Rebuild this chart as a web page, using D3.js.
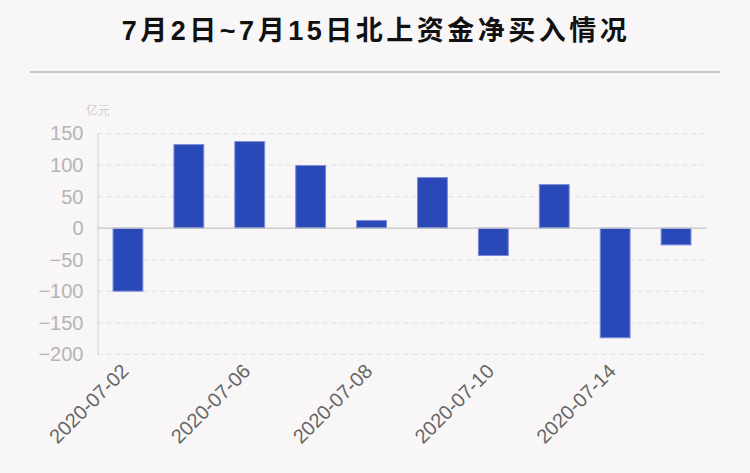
<!DOCTYPE html>
<html>
<head>
<meta charset="utf-8">
<script src="https://cdn.jsdelivr.net/npm/d3@7"></script>
<style>
  html, body { margin: 0; padding: 0; background: #f9f6f7; }
  svg { display: block; font-family: "Liberation Sans", Arial, sans-serif; }
</style>
</head>
<body>
<svg id="chart"></svg>
<script>
// data (亿元)
const dates = ['2020-07-02','2020-07-03','2020-07-06','2020-07-07','2020-07-08',
               '2020-07-09','2020-07-10','2020-07-13','2020-07-14','2020-07-15'];
const netBuy = [-99.7, 132.4, 137.2, 99.2, 12.2, 80.2, -43.2, 69.1, -173.5, -26.4];
const yTicks = [150, 100, 50, 0, -50, -100, -150, -200];
const shownDates = ['2020-07-02','2020-07-06','2020-07-08','2020-07-10','2020-07-14'];
const title = '7月2日~7月15日北上资金净买入情况';
const unit = '亿元';

const w = 750, h = 473;
const padL = 97.5, padR = 706.5, padT = 133.5, padB = 354.5;

const svg = d3.select('#chart').attr('width', w).attr('height', h);

svg.append('rect').attr('width', w).attr('height', h).attr('fill', '#f9f6f7');

// title + rule
svg.append('text')
  .attr('x', 376).attr('y', 40)
  .attr('text-anchor', 'middle')
  .attr('font-family', '"Liberation Sans", "Noto Sans CJK SC", sans-serif')
  .attr('font-weight', 'bold')
  .attr('font-size', 27)
  .attr('letter-spacing', 3.5)
  .attr('fill', '#111')
  .text(title);
svg.append('line')
  .attr('x1', 30).attr('x2', 720).attr('y1', 72).attr('y2', 72)
  .attr('stroke', '#c6c6c6').attr('stroke-width', 2);

const x = d3.scaleBand().domain(dates).range([padL, padR]).paddingInner(0.51).paddingOuter(0.255);
const y = d3.scaleLinear().domain([-200, 150]).range([padB, padT]);

// grid
svg.append('g')
  .selectAll('line')
  .data(yTicks.filter(d => d !== 0))
  .join('line')
  .attr('x1', padL).attr('x2', padR)
  .attr('y1', d => y(d)).attr('y2', d => y(d))
  .attr('stroke', '#e3e0e1').attr('stroke-dasharray', '5,4');

// y axis
const yAxis = d3.axisLeft(y).tickValues(yTicks).tickSize(0).tickPadding(14);
const gy = svg.append('g').attr('transform', `translate(${padL},0)`).call(yAxis);
gy.select('.domain').attr('stroke', '#d0d0d0');
gy.selectAll('text')
  .attr('font-size', 20)
  .attr('fill', '#b4b4b4')
  .attr('font-family', '"Liberation Sans", Arial, sans-serif');

svg.append('text')
  .attr('x', 98).attr('y', 115)
  .attr('text-anchor', 'middle')
  .attr('font-size', 12)
  .attr('fill', '#cfcfcf')
  .attr('font-family', '"Noto Sans CJK SC", sans-serif')
  .text(unit);

// bars
svg.append('g')
  .selectAll('rect')
  .data(dates.map((d, i) => ({ date: d, v: netBuy[i] })))
  .join('rect')
  .attr('x', d => x(d.date))
  .attr('width', x.bandwidth())
  .attr('y', d => y(Math.max(0, d.v)))
  .attr('height', d => Math.abs(y(d.v) - y(0)))
  .attr('fill', '#2a49b8')
  .attr('stroke', '#7b8bd6')
  .attr('stroke-width', 1);

// zero line
svg.append('line')
  .attr('x1', padL).attr('x2', padR)
  .attr('y1', y(0)).attr('y2', y(0))
  .attr('stroke', '#c4c4c4').attr('stroke-width', 1.2);

// x axis labels
const xAxis = d3.axisBottom(x).tickValues(shownDates).tickSize(0).tickPadding(0);
const gx = svg.append('g').attr('transform', `translate(0,${padB})`).call(xAxis);
gx.select('.domain').remove();
gx.selectAll('text')
  .attr('font-size', 20)
  .attr('fill', '#666')
  .attr('font-family', '"Liberation Sans", sans-serif')
  .attr('text-anchor', 'end')
  .attr('dy', '0.35em')
  .attr('transform', 'translate(-3,13) rotate(-45)');
</script>
</body>
</html>
